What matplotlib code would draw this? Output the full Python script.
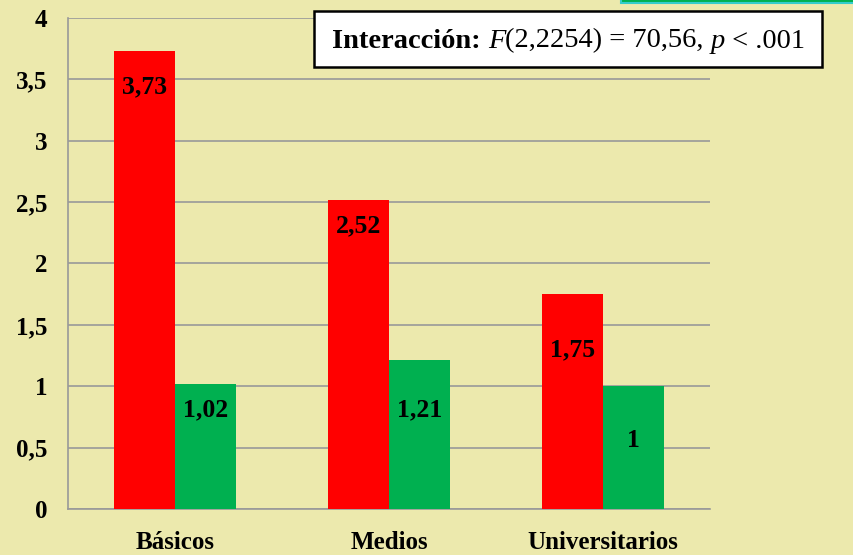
import numpy as np
import matplotlib
matplotlib.use("Agg")
import matplotlib.pyplot as plt
from matplotlib.patches import Rectangle

# datos del gráfico
categorias = ["Básicos", "Medios", "Universitarios"]
serie_roja = [3.73, 2.52, 1.75]
serie_verde = [1.02, 1.21, 1.00]
etiquetas_roja = ["3,73", "2,52", "1,75"]
etiquetas_verde = ["1,02", "1,21", "1"]
# altura (en unidades del eje) donde va cada etiqueta
altura_etq_roja = [3.44, 2.31, 1.30]
altura_etq_verde = [0.81, 0.81, 0.56]
yticks = [0, 0.5, 1, 1.5, 2, 2.5, 3, 3.5, 4]
ytick_labels = ["0", "0,5", "1", "1,5", "2", "2,5", "3", "3,5", "4"]

plt.rcParams['font.family'] = ['Liberation Serif', 'DejaVu Serif']

fondo = '#ECE9AD'
rojo = '#FF0000'
verde = '#00B050'

fig = plt.figure(figsize=(8.54, 5.55), dpi=100, facecolor=fondo)
ax = fig.add_axes([0.0796, 0.0829, 0.7518, 0.8847])
ax.set_facecolor(fondo)

x = np.arange(len(categorias))
w = 0.286
ax.bar(x - w / 2, serie_roja, width=w, color=rojo, zorder=3)
ax.bar(x + w / 2, serie_verde, width=w, color=verde, zorder=3)

for i in range(len(categorias)):
    ax.text(x[i] - w / 2, altura_etq_roja[i], etiquetas_roja[i], ha='center', va='center',
            fontsize=18.5, fontweight='bold', zorder=4)
    ax.text(x[i] + w / 2, altura_etq_verde[i], etiquetas_verde[i], ha='center', va='center',
            fontsize=18.5, fontweight='bold', zorder=4)

ax.set_xlim(-0.5, len(categorias) - 0.5)
ax.set_ylim(0, 4)
ax.set_yticks(yticks)
ax.set_yticklabels(ytick_labels, fontsize=18, fontweight='bold')
ax.set_xticks(x)
ax.set_xticklabels(categorias, fontsize=18, fontweight='bold')
ax.tick_params(axis='y', length=0, pad=15)
ax.tick_params(axis='x', length=0, pad=16)
ax.grid(axis='y', color='#999999', linewidth=1.2, zorder=1)
for s in ['top', 'right']:
    ax.spines[s].set_visible(False)
for s in ['left', 'bottom']:
    ax.spines[s].set_color('#999999')
    ax.spines[s].set_linewidth(1.2)

# recuadro verde cortado arriba a la derecha
fig.patches.append(Rectangle((0.727, 0.994), 0.3, 0.05, transform=fig.transFigure,
                             facecolor=verde, edgecolor='#33CCCC', linewidth=1.5, zorder=5))

# recuadro con el texto de la interacción
fig.patches.append(Rectangle((0.368, 0.879), 0.595, 0.101, transform=fig.transFigure,
                             facecolor='white', edgecolor='black', linewidth=1.8, zorder=5))

partes = [("Interacción: ", 'bold', 'normal'),
          ("F", 'normal', 'italic'),
          ("(2,2254) = 70,56, ", 'normal', 'normal'),
          ("p", 'normal', 'italic'),
          (" < .001", 'normal', 'normal')]
inv = fig.transFigure.inverted()
prev = None
for txt, peso, estilo in partes:
    if prev is None:
        t = fig.text(0.389, 0.926, txt, fontsize=20.5, fontweight=peso, fontstyle=estilo,
                     ha='left', va='center', zorder=6)
        fig.canvas.draw()
        bb = t.get_window_extent()
        t.set_va('bottom')
        t.set_position(inv.transform((bb.x0, bb.y0)))
    else:
        fig.canvas.draw()
        bb = prev.get_window_extent()
        x0, y0 = inv.transform((bb.x1, bb.y0))
        t = fig.text(x0, y0, txt, fontsize=20.5, fontweight=peso, fontstyle=estilo,
                     ha='left', va='bottom', zorder=6)
    prev = t

fig.savefig("out.png", dpi=100, facecolor=fondo)
